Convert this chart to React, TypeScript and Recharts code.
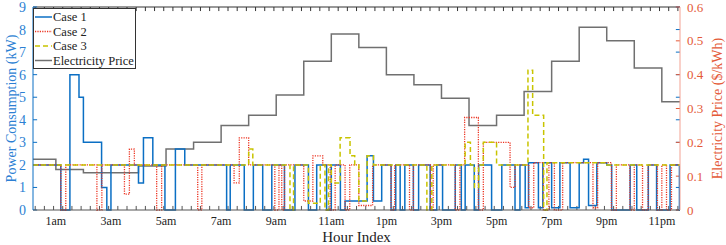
import { ComposedChart, Line, XAxis, YAxis, ReferenceLine } from 'recharts';

const hourTicks = [1, 3, 5, 7, 9, 11, 13, 15, 17, 19, 21, 23];
const hourLabels = ['1am', '3am', '5am', '7am', '9am', '11am', '1pm', '3pm', '5pm', '7pm', '9pm', '11pm'];
const powerTicks = [0, 1, 2, 3, 4, 5, 6, 7, 8, 9];
const priceTicks = [0, 0.1, 0.2, 0.3, 0.4, 0.5, 0.6];

// electricity price, $/kWh, hourly steps
const priceHours = [0.17, 1, 2, 3, 4, 5, 6, 7, 8, 9, 10, 11, 12, 13, 14, 15, 16, 17, 18, 19, 20, 21, 22, 23, 23.66];
const priceValues = [0.15, 0.12, 0.11, 0.11, 0.13, 0.18, 0.2, 0.25, 0.28, 0.34, 0.44, 0.52, 0.48, 0.4, 0.37, 0.33, 0.25, 0.28, 0.35, 0.44, 0.54, 0.5, 0.42, 0.32, 0.32];

// case 1, kW
const case1Hours = [0.17, 1.18, 1.51, 1.84, 2.0, 2.66, 2.85, 3.0, 4.0, 4.18, 4.52, 4.96, 5.34, 5.68, 7.2, 7.33, 7.84, 8.17, 8.51, 8.84, 9.3, 9.68, 10.17, 10.47, 10.83, 11.0, 11.33, 11.5, 12.3, 12.53, 12.83, 13.17, 13.34, 13.5, 13.67, 13.98, 14.17, 14.59, 14.83, 15.04, 15.5, 15.72, 15.86, 16.19, 16.35, 16.82, 17.19, 17.67, 17.85, 18.04, 18.16, 18.52, 18.68, 19.0, 19.3, 19.67, 20.0, 20.16, 20.34, 20.64, 21.0, 21.18, 21.85, 22.09, 22.51, 22.81, 23.3, 23.64, 23.66];
const case1Kw = [2, 0, 6, 5, 3, 1, 0, 2, 1.2, 3.2, 2, 0, 2.7, 2, 0, 2, 0, 2, 0, 2, 0, 2, 0, 2, 0, 2, 0, 0.4, 2.4, 0.4, 2, 0, 2, 0, 2, 0, 2, 0, 2, 0, 2, 0, 2, 0, 2, 0, 2, 0, 2, 0.1, 2.1, 0.1, 2.1, 0.1, 2.1, 0.1, 2.1, 2.25, 0.2, 2.1, 2, 0, 2, 0, 2, 0, 2, 0, 0];

// case 2, kW
const case2Hours = [0.17, 1.18, 1.36, 2.49, 2.67, 3.49, 3.67, 3.85, 4.66, 4.84, 6.15, 6.3, 7.47, 7.66, 8.0, 8.95, 9.1, 9.2, 9.3, 10.0, 10.33, 10.69, 10.96, 11.14, 11.5, 11.67, 12.0, 12.5, 13.17, 13.3, 13.84, 13.98, 14.6, 14.7, 15.5, 15.67, 15.84, 16.34, 16.52, 17.49, 17.67, 18.17, 18.35, 18.7, 18.9, 19.1, 19.4, 20.5, 20.67, 21.17, 21.35, 21.84, 22.0, 22.3, 22.5, 22.84, 23.0, 23.17, 23.35, 23.66];
const case2Kw = [2, 0, 2, 0, 2, 0.7, 2.7, 2, 0, 2, 0, 2, 1.2, 3.2, 2, 0, 2, 0, 2, 0.4, 2.4, 2, 0, 2, 0, 2, 0.2, 2, 0, 2, 0, 2, 0, 2, 0, 2, 4.1, 0, 3.0, 1.0, 2, 0.1, 2.1, 0, 2.1, 0, 2.1, 0.1, 2.1, 0, 2, 0, 2, 0, 2, 0, 2, 0, 2, 2];

// case 3, kW
const case3Hours = [0.17, 8.0, 8.15, 9.5, 9.63, 10.17, 10.6, 10.77, 10.9, 11.0, 11.32, 11.68, 11.85, 12.0, 12.3, 12.53, 14.47, 14.65, 15.86, 16.05, 16.2, 16.35, 16.52, 17.0, 17.67, 18.14, 18.31, 18.71, 18.83, 21.0, 23.66];
const case3Kw = [2, 2.7, 2, 0, 2, 0.3, 2, 0, 2, 1.2, 3.2, 2.4, 2, 0.4, 2.4, 2, 0, 2, 3.0, 2, 1.0, 2, 3.0, 2, 2, 6.2, 4.2, 0, 2.1, 2, 2];

const X_MIN = 0.17;
const X_MAX = 23.66;

const zip = (hours: number[], vals: number[]) => hours.map((h, i) => ({ h, v: vals[i] }));

const priceData = zip(priceHours, priceValues);
const case1Data = zip(case1Hours, case1Kw);
const case2Data = zip(case2Hours, case2Kw);
const case3Data = zip(case3Hours, case3Kw);

const minorTicks = Array.from({ length: 71 }, (_, k) => 0.25 + k / 3).filter((x) => x < X_MAX);

const BLUE = '#0b6fc4';
const BLUE_TEXT = '#2c7fd3';
const RED = '#ec3422';
const YELLOW = '#c8c400';
const GRAY = '#707070';
const ORANGE = '#e45a38';
const FONT = "'Liberation Serif', 'Times New Roman', serif";

const LeftTitle = ({ viewBox }: any) => {
  const cx = viewBox.x + 11;
  const cy = viewBox.y + viewBox.height / 2;
  return (
    <text x={cx} y={cy} transform={`rotate(-90 ${cx} ${cy})`} textAnchor="middle" dominantBaseline="central"
      fill={BLUE_TEXT} fontSize={14} fontFamily={FONT}>
      Power Consumption (kW)
    </text>
  );
};

const RightTitle = ({ viewBox }: any) => {
  const cx = viewBox.x + 37;
  const cy = viewBox.y + viewBox.height / 2;
  return (
    <text x={cx} y={cy} transform={`rotate(-90 ${cx} ${cy})`} textAnchor="middle" dominantBaseline="central"
      fill={ORANGE} fontSize={14} fontFamily={FONT}>
      Electricity Price ($/kWh)
    </text>
  );
};

const legendItems = [
  { name: 'Case 1', color: BLUE, dash: undefined, width: 1.5 },
  { name: 'Case 2', color: RED, dash: '1.2 1.2', width: 1.3 },
  { name: 'Case 3', color: YELLOW, dash: '5 3', width: 1.5 },
  { name: 'Electricity Price', color: GRAY, dash: undefined, width: 1.5 },
];

export default function App() {
  return (
    <div style={{ position: 'absolute', left: 0, top: 0, width: 726, height: 245, background: '#fff' }}>
      <ComposedChart width={726} height={245} margin={{ top: 7, right: 0, bottom: 0, left: 0 }}>
        <XAxis
          xAxisId="x"
          dataKey="h"
          type="number"
          domain={[X_MIN, X_MAX]}
          allowDataOverflow
          ticks={hourTicks}
          interval={0}
          tickFormatter={(v: number) => hourLabels[hourTicks.indexOf(v)] ?? ''}
          tickLine={false}
          tickSize={0}
          tickMargin={6}
          height={35}
          stroke="#555"
          tick={{ fill: '#222', fontSize: 12, fontFamily: FONT }}
          label={{ value: 'Hour Index', position: 'insideBottom', offset: 3, fill: '#222', fontSize: 15, fontFamily: FONT }}
        />
        <YAxis
          yAxisId="kw"
          type="number"
          domain={[0, 9]}
          ticks={powerTicks}
          interval={0}
          width={33}
          tickLine={false}
          tickSize={0}
          tickMargin={7}
          stroke={BLUE}
          tick={{ fill: BLUE_TEXT, fontSize: 14, fontFamily: FONT }}
          label={{ content: LeftTitle }}
        />
        <YAxis
          yAxisId="price"
          orientation="right"
          type="number"
          domain={[0, 0.6]}
          ticks={priceTicks}
          interval={0}
          width={46}
          tickLine={false}
          tickSize={0}
          tickMargin={7}
          stroke="#f3a293"
          tick={{ fill: ORANGE, fontSize: 13, fontFamily: FONT }}
          label={{ content: RightTitle }}
        />

        <ReferenceLine xAxisId="x" yAxisId="kw" y={9} stroke="#333" strokeWidth={1} ifOverflow="visible" />
        {minorTicks.map((t) => (
          <ReferenceLine key={`b${t}`} xAxisId="x" yAxisId="kw" ifOverflow="visible" stroke="#555"
            segment={[{ x: t, y: 0 }, { x: t, y: 0.18 }]} />
        ))}
        {minorTicks.map((t) => (
          <ReferenceLine key={`t${t}`} xAxisId="x" yAxisId="kw" ifOverflow="visible" stroke="#333"
            segment={[{ x: t, y: 9 }, { x: t, y: 8.82 }]} />
        ))}
        {powerTicks.map((k) => (
          <ReferenceLine key={`l${k}`} xAxisId="x" yAxisId="kw" ifOverflow="visible" stroke={BLUE}
            segment={[{ x: X_MIN, y: k }, { x: X_MIN + 0.15, y: k }]} />
        ))}
        {powerTicks.map((k) => (
          <ReferenceLine key={`rb${k}`} xAxisId="x" yAxisId="kw" ifOverflow="visible" stroke={BLUE}
            segment={[{ x: X_MAX - 0.15, y: k }, { x: X_MAX, y: k }]} />
        ))}
        {priceTicks.map((p) => (
          <ReferenceLine key={`r${p}`} xAxisId="x" yAxisId="price" ifOverflow="visible" stroke={ORANGE}
            segment={[{ x: X_MAX - 0.15, y: p }, { x: X_MAX, y: p }]} />
        ))}

        <Line xAxisId="x" yAxisId="price" data={priceData} dataKey="v" type="stepAfter" stroke={GRAY}
          strokeWidth={1.5} dot={false} isAnimationActive={false} />
        <Line xAxisId="x" yAxisId="kw" data={case1Data} dataKey="v" type="stepAfter" stroke={BLUE}
          strokeWidth={1.5} dot={false} isAnimationActive={false} />
        <Line xAxisId="x" yAxisId="kw" data={case2Data} dataKey="v" type="stepAfter" stroke={RED}
          strokeWidth={1.3} strokeDasharray="1.2 1.2" dot={false} isAnimationActive={false} />
        <Line xAxisId="x" yAxisId="kw" data={case3Data} dataKey="v" type="stepAfter" stroke={YELLOW}
          strokeWidth={1.5} strokeDasharray="5 3" dot={false} isAnimationActive={false} />
      </ComposedChart>

      <svg width={726} height={245} style={{ position: 'absolute', left: 0, top: 0, pointerEvents: 'none' }}>
        <rect x={33.5} y={8.5} width={102} height={60} fill="#fff" stroke="#333" strokeWidth={1} />
        {legendItems.map((it, i) => {
          const y = 17 + i * 14.5;
          return (
            <g key={it.name}>
              <line x1={35} x2={52} y1={y} y2={y} stroke={it.color} strokeWidth={it.width} strokeDasharray={it.dash} />
              <text x={53} y={y + 4} fontSize={12.5} fontFamily={FONT} fill="#222">{it.name}</text>
            </g>
          );
        })}
      </svg>
    </div>
  );
}
